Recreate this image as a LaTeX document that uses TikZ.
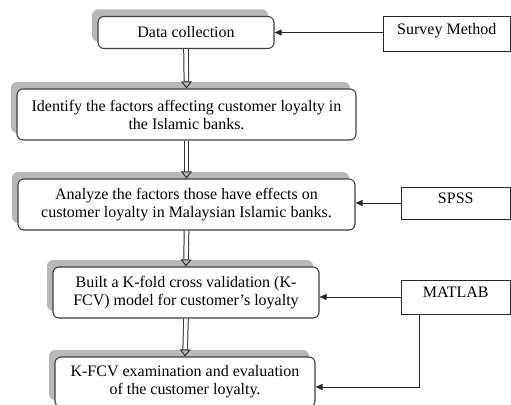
\documentclass[tikz,border=0pt]{standalone}
\usepackage{fontspec}
\setmainfont{Liberation Serif}
\usetikzlibrary{arrows.meta,shadows}
\begin{document}
\begin{tikzpicture}[x=1pt,y=-1pt,
  flowbox/.style={draw=black!75, line width=1.1pt, rounded corners=6pt, fill=white,
    align=center, inner sep=0pt, font=\fontsize{16}{18}\selectfont,
    general shadow={shadow xshift=-6pt, shadow yshift=7pt, fill=black!28, draw=none}},
  sidebox/.style={draw=black!85, line width=0.8pt, fill=white, inner sep=0pt,
    font=\fontsize{16}{18}\selectfont, text depth=10pt},
  arr/.style={draw=black!85, line width=0.8pt, -{Triangle[length=7pt,width=6pt]}},
  dbl/.style={draw=black!80, double=white, double distance=3.6pt, line width=1pt,
    -{Triangle[open, length=7pt, width=11pt]}}
]
\useasboundingbox (0,0) rectangle (511,404);

\node[flowbox, minimum width=176pt, minimum height=32pt] (b1) at (186,32.5) {Data collection};
\node[flowbox, minimum width=339pt, minimum height=51pt] (b2) at (186.5,114.5)
  {Identify the factors affecting customer loyalty in\\the Islamic banks.};
\node[flowbox, minimum width=337pt, minimum height=51pt] (b3) at (186.5,204.5)
  {Analyze the factors those have effects on\\customer loyalty in Malaysian Islamic banks.};
\node[flowbox, minimum width=266pt, minimum height=51pt] (b4) at (186,292.5)
  {Built a K-fold cross validation (K-\\FCV) model for customer’s loyalty};
\node[flowbox, minimum width=260pt, minimum height=50pt] (b5) at (185,382)
  {K-FCV examination and evaluation\\of the customer loyalty.};

\node[sidebox, minimum width=127.5pt, minimum height=35pt] (survey) at (446.75,33.5) {Survey Method};
\node[sidebox, minimum width=109.5pt, minimum height=32pt] (spss) at (455.75,203) {SPSS};
\node[sidebox, minimum width=109.5pt, minimum height=34pt] (matlab) at (455.75,297) {MATLAB};

\draw[dbl] (b1.south) -- (b2.north);
\draw[dbl] (b2.south) -- (b3.north);
\draw[dbl] (b3.south) -- (b4.north);
\draw[dbl] (b4.south) -- (b5.north);

\draw[arr] (survey.west |- b1.east) -- (b1.east);
\draw[arr] (spss.west) -- (spss.west -| b3.east);
\draw[arr] (matlab.west) -- (matlab.west -| b4.east);
\coordinate (mk) at (419,387);
\draw[arr] (matlab.south -| mk) -- (mk) -- (mk -| b5.east);
\end{tikzpicture}
\end{document}
